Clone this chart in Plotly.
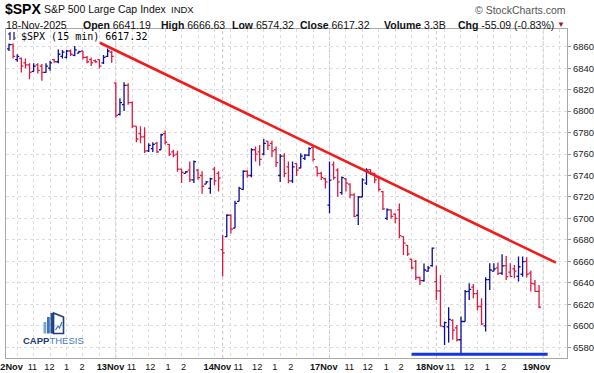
import plotly.graph_objects as go

# ---------------- data ----------------
day_names = ["12Nov", "13Nov", "14Nov", "17Nov", "18Nov", "19Nov"]
bars_per_day = 26
hour_labels = ["11", "12", "1", "2"]

open_ = [
    # 12 Nov
    6858, 6862, 6848, 6849, 6845, 6843, 6837, 6843, 6842, 6836, 6840, 6848, 6846,
    6851, 6850, 6856, 6852, 6854, 6856, 6850, 6848, 6847, 6848, 6845, 6851, 6855,
    # 13 Nov
    6826, 6797, 6806, 6824, 6808, 6786, 6779, 6776, 6763, 6765, 6770, 6764, 6779,
    6769, 6762, 6760, 6746, 6742, 6745, 6736, 6745, 6740, 6732, 6728, 6746, 6742,
    # 14 Nov
    6671, 6683, 6703, 6691, 6716, 6727, 6744, 6740, 6764, 6762, 6760, 6772, 6770,
    6764, 6740, 6758, 6748, 6735, 6751, 6747, 6756, 6759, 6766, 6748, 6742, 6737,
    # 17 Nov
    6712.5, 6750, 6745, 6724, 6737, 6732, 6722, 6703, 6720, 6733, 6745.5, 6742, 6738,
    6725, 6700, 6708, 6704, 6708, 6683, 6675, 6662, 6660, 6645, 6642, 6651, 6656,
    # 18 Nov
    6641.19, 6632.5, 6599.3, 6599, 6605, 6598, 6587, 6604, 6632, 6636, 6630, 6618, 6600,
    6643, 6651, 6654, 6649, 6656, 6650, 6653, 6646, 6648, 6660, 6649, 6639, 6632,
]
high = [
    6863, 6863, 6853, 6850, 6849, 6844.5, 6844.5, 6844.5, 6844, 6844.5, 6847, 6848.5, 6857.5,
    6857, 6857, 6857.5, 6860.6, 6856.3, 6856.3, 6851.3, 6850, 6848.2, 6848.2, 6852.2, 6858.4, 6856.3,
    6827, 6812, 6827, 6826, 6809, 6786, 6786, 6785, 6770, 6771, 6771.5, 6779, 6782,
    6769.3, 6764, 6763, 6746, 6744, 6753, 6754, 6746, 6744, 6735, 6738, 6748, 6744,
    6684.6, 6704, 6704, 6716.6, 6729.6, 6745, 6745, 6765.3, 6767, 6768.4, 6774, 6772.5, 6772.5,
    6767, 6760, 6760.7, 6753, 6753, 6751.4, 6760.7, 6760, 6766.3, 6767, 6748.2, 6743.6, 6738,
    6753, 6753, 6746.7, 6739, 6737.4, 6732.7, 6723.4, 6720.9, 6737.4, 6746.7, 6745.8, 6742.5, 6738.9,
    6725.5, 6709.4, 6708.5, 6704.8, 6714, 6683.5, 6675.3, 6662, 6661.3, 6645.8, 6658, 6655.7, 6673,
    6656, 6647.4, 6603.9, 6617.3, 6606.1, 6600.8, 6608.6, 6633.4, 6639.6, 6639, 6633.4, 6625.7, 6645.2,
    6658.3, 6658.3, 6658.9, 6666.63, 6665.1, 6658.3, 6656.7, 6664.5, 6664.5, 6663.8, 6651.4, 6642.7, 6638.1,
]
low = [
    6856, 6849, 6846, 6836, 6840, 6829.6, 6836.7, 6835, 6828.3, 6835.8, 6837.6, 6845, 6844.5,
    6849, 6849, 6851.3, 6851, 6853.8, 6848.2, 6844.5, 6842, 6845, 6839.8, 6844, 6850.5, 6845,
    6794, 6796, 6800, 6806, 6784, 6771, 6770, 6761, 6762, 6762, 6761, 6764, 6769,
    6758.2, 6757, 6743.6, 6733, 6742, 6734, 6733, 6736, 6723, 6732, 6723, 6731, 6725,
    6646, 6682.4, 6686, 6690.8, 6716, 6726.5, 6738, 6738.3, 6753, 6749, 6759, 6763.8, 6757,
    6748, 6734, 6738.3, 6732.7, 6733, 6739.6, 6746.7, 6754.5, 6758, 6753, 6739, 6735.8, 6728,
    6704.8, 6736, 6720.3, 6722, 6725, 6718.8, 6701.1, 6693.9, 6720, 6731.2, 6740.5, 6732.7, 6725,
    6707.9, 6698.6, 6700, 6695.5, 6681.5, 6666, 6665, 6652.6, 6642.7, 6638, 6641.1, 6650.4, 6655,
    6624, 6599.3, 6582.2, 6584.4, 6586.9, 6585.3, 6574.32, 6603.9, 6624.1, 6625.7, 6614.2, 6600.8, 6594.6,
    6633.4, 6650.5, 6647.4, 6647.4, 6642.7, 6645.8, 6644.3, 6641.2, 6645.8, 6645, 6631.9, 6631.9, 6616.3,
]
close = [
    6862, 6851, 6851, 6842, 6843, 6836, 6842, 6838, 6836, 6842, 6845, 6846, 6853,
    6855, 6856, 6853, 6857, 6855.5, 6850, 6846, 6845, 6846, 6842, 6850, 6856, 6850.92,
    6796, 6808, 6824, 6808, 6786, 6774, 6776, 6763, 6768, 6769, 6762, 6778, 6771,
    6760, 6759, 6746, 6743, 6743.5, 6736, 6753, 6738, 6730, 6734, 6737, 6735, 6737.49,
    6668, 6703, 6690, 6714, 6728, 6744, 6740, 6764, 6760, 6755, 6770, 6768, 6763,
    6752, 6758, 6742, 6735, 6748, 6745, 6758, 6759, 6765, 6755, 6742, 6738, 6734.11,
    6735.8, 6738, 6734, 6738, 6733, 6722, 6702, 6720, 6736, 6745, 6742, 6736, 6727,
    6709, 6708, 6702, 6700, 6684, 6677, 6667, 6654, 6645, 6642, 6652, 6654, 6672.41,
    6632.5, 6600, 6603, 6606, 6596, 6587, 6604, 6631.9, 6634, 6630, 6618, 6601.7, 6643,
    6652, 6653, 6648.9, 6655.8, 6645.8, 6646, 6651, 6655, 6659.8, 6648, 6639.6, 6632, 6617.32,
]
bar_index = list(range(len(close)))

trend_x = [22.1, 133.1]
trend_y = [6863.7, 6658.8]
support_x = [98.0, 131.1]
support_y = [6573.6, 6573.6]

y_ticks = list(range(6580, 6861, 20))

header_date = "18-Nov-2025"
header_fields = [("Open", "6641.19"), ("High", "6666.63"), ("Low", "6574.32"),
                 ("Close", "6617.32"), ("Volume", "3.3B"), ("Chg", "-55.09 (-0.83%)")]
legend_text = "$SPX (15 min) 6617.32"

# ---------------- layout helpers ----------------
W_FIG, H_FIG = 594, 373
PL, PR, PT, PB = 6, 567, 29, 358
PW, PH = PR - PL, PB - PT


def pxx(x):
    return (x - PL) / PW


def pxy(y):
    return (PB - y) / PH


FONT = "Liberation Sans, Arial, sans-serif"
RED = "#dc1a40"
BLUE = "#0b0b9c"

# tick label placement (bar units, relative to each day's first bar)
day_label_off = [0.0, -1.3, -1.3, -1.4, -1.6, -1.6]
hour_offs = [
    [5.7, 9.85, 14.0, 17.8],
    [3.8, 8.4, 12.7, 16.5],
    [3.8, 8.4, 12.7, 16.6],
    [4.8, 9.3, 13.8, 17.4],
    [3.4, 8.0, 12.4, 16.4],
]
tickvals, ticktext = [], []
for d, name in enumerate(day_names):
    start = d * bars_per_day
    tickvals.append(start + day_label_off[d])
    ticktext.append("<b>%s</b>" % name)
    if d < len(hour_offs):
        for off, lab in zip(hour_offs[d], hour_labels):
            tickvals.append(start + off)
            ticktext.append(lab)

grid_x = [2 + 4 * k for k in range(34)]

fig = go.Figure()
fig.add_trace(go.Ohlc(
    x=bar_index, open=open_, high=high, low=low, close=close,
    increasing=dict(line=dict(color=BLUE, width=1.3)),
    decreasing=dict(line=dict(color=RED, width=1.3)),
    tickwidth=0.5, hoverinfo="skip", showlegend=False,
))
fig.add_trace(go.Scatter(x=trend_x, y=trend_y, mode="lines",
                         line=dict(color="#f01c1c", width=2.6), hoverinfo="skip", showlegend=False))
fig.add_trace(go.Scatter(x=support_x, y=support_y, mode="lines",
                         line=dict(color="#1236e0", width=3), hoverinfo="skip", showlegend=False))

shapes = []
# day separators
for d in range(1, len(day_names)):
    xs = d * bars_per_day
    shapes.append(dict(type="line", xref="x", yref="paper", x0=xs, x1=xs, y0=0, y1=1,
                       line=dict(color="#c6c6c6", width=1, dash="3px,3px"), layer="below"))

# legend icon
shapes += [
    dict(type="line", xref="paper", yref="paper", x0=pxx(10), x1=pxx(10), y0=pxy(32), y1=pxy(40),
         line=dict(color=BLUE, width=1.2)),
    dict(type="line", xref="paper", yref="paper", x0=pxx(8), x1=pxx(10), y0=pxy(34), y1=pxy(34),
         line=dict(color=BLUE, width=1)),
    dict(type="line", xref="paper", yref="paper", x0=pxx(14), x1=pxx(14), y0=pxy(32), y1=pxy(40),
         line=dict(color=BLUE, width=1.2)),
    dict(type="line", xref="paper", yref="paper", x0=pxx(14), x1=pxx(16), y0=pxy(38), y1=pxy(38),
         line=dict(color=RED, width=1)),
]

# CAPPTHESIS logo icon
logo_bars = [(43.5, 46.3, 322, "#7aa3d6"), (47.0, 49.8, 317, "#3f74bb"), (50.5, 53.0, 313, "#1f4d94")]
for x0, x1, top, col in logo_bars:
    shapes.append(dict(type="rect", xref="paper", yref="paper", x0=pxx(x0), x1=pxx(x1),
                       y0=pxy(333.5), y1=pxy(top), fillcolor=col, line=dict(width=0)))
path = "M %f,%f L %f,%f L %f,%f L %f,%f Z" % (
    pxx(53.5), pxy(333.5), pxx(53.5), pxy(313), pxx(63.5), pxy(317), pxx(63.5), pxy(333.5))
shapes.append(dict(type="path", xref="paper", yref="paper", path=path,
                   line=dict(color="#1d3f7c", width=1.6), fillcolor="rgba(0,0,0,0)"))
zig = "M %f,%f L %f,%f L %f,%f L %f,%f" % (
    pxx(55.5), pxy(330), pxx(58), pxy(326), pxx(59.5), pxy(328), pxx(62), pxy(322))
shapes.append(dict(type="path", xref="paper", yref="paper", path=zig,
                   line=dict(color="#3f74bb", width=1.2)))

annotations = []


def ann(x, y, text, size, color="#111", anchor="left", family=FONT):
    annotations.append(dict(xref="paper", yref="paper", x=pxx(x), y=pxy(y), text=text,
                            showarrow=False, xanchor=anchor, yanchor="middle",
                            font=dict(family=family, size=size, color=color), borderpad=0))


ann(4, 9, "<b>$SPX</b>", 14, "#000")
ann(43, 9.5, "S&P 500 Large Cap Index", 10.5, "#111")
ann(170, 10, "INDX", 9.5, "#111")
ann(567, 10, "© StockCharts.com", 10.5, "#555", anchor="right")
ann(5, 24.5, header_date, 10.5, "#111")
field_x = [82, 160, 231, 299, 383, 457]
for (lab, val), fx in zip(header_fields, field_x):
    ann(fx, 24.5, "<b>%s</b> %s" % (lab, val), 10.5, "#111")
ann(556, 24, "▼", 8, "#a0103a")
ann(20, 36, legend_text, 10, "#000", family="DejaVu Sans Mono, monospace")
ann(53, 340.5, "<b>CAPP</b><span style='color:#4a78b8'>THESIS</span>", 9.5, "#1d3a6e", anchor="center")

fig.update_layout(
    width=W_FIG, height=H_FIG,
    margin=dict(l=PL, r=W_FIG - PR, t=PT, b=H_FIG - PB, autoexpand=False),
    paper_bgcolor="white", plot_bgcolor="white",
    font=dict(family=FONT, size=10, color="#111"),
    shapes=shapes, annotations=annotations, showlegend=False,
    xaxis=dict(
        range=[-0.73, 135.8], tickmode="array", tickvals=tickvals, ticktext=ticktext,
        ticks="", showgrid=False, zeroline=False, automargin=False,
        ticklabeloverflow="allow", tickangle=0,
        tickfont=dict(family=FONT, size=9.2, color="#111"),
        showline=True, mirror=True, linecolor="#a8a8a8", linewidth=1,
        rangeslider=dict(visible=False),
        minor=dict(tickmode="array", tickvals=grid_x, showgrid=True, gridcolor="#dcdcdc",
                   griddash="3px,3px", gridwidth=1, ticks=""),
    ),
    yaxis=dict(
        range=[6570, 6876.5], side="right", tickmode="array", tickvals=y_ticks,
        ticks="outside", ticklen=3, tickcolor="#999", automargin=False,
        tickfont=dict(family=FONT, size=9.5, color="#222"),
        showgrid=True, gridcolor="#dcdcdc", griddash="3px,3px", gridwidth=1, zeroline=False,
        showline=True, mirror=True, linecolor="#a8a8a8", linewidth=1,
    ),
)

fig.write_html("out.html", config={"displayModeBar": False},
               post_script="document.body.style.margin='0';document.body.style.overflow='hidden';")
